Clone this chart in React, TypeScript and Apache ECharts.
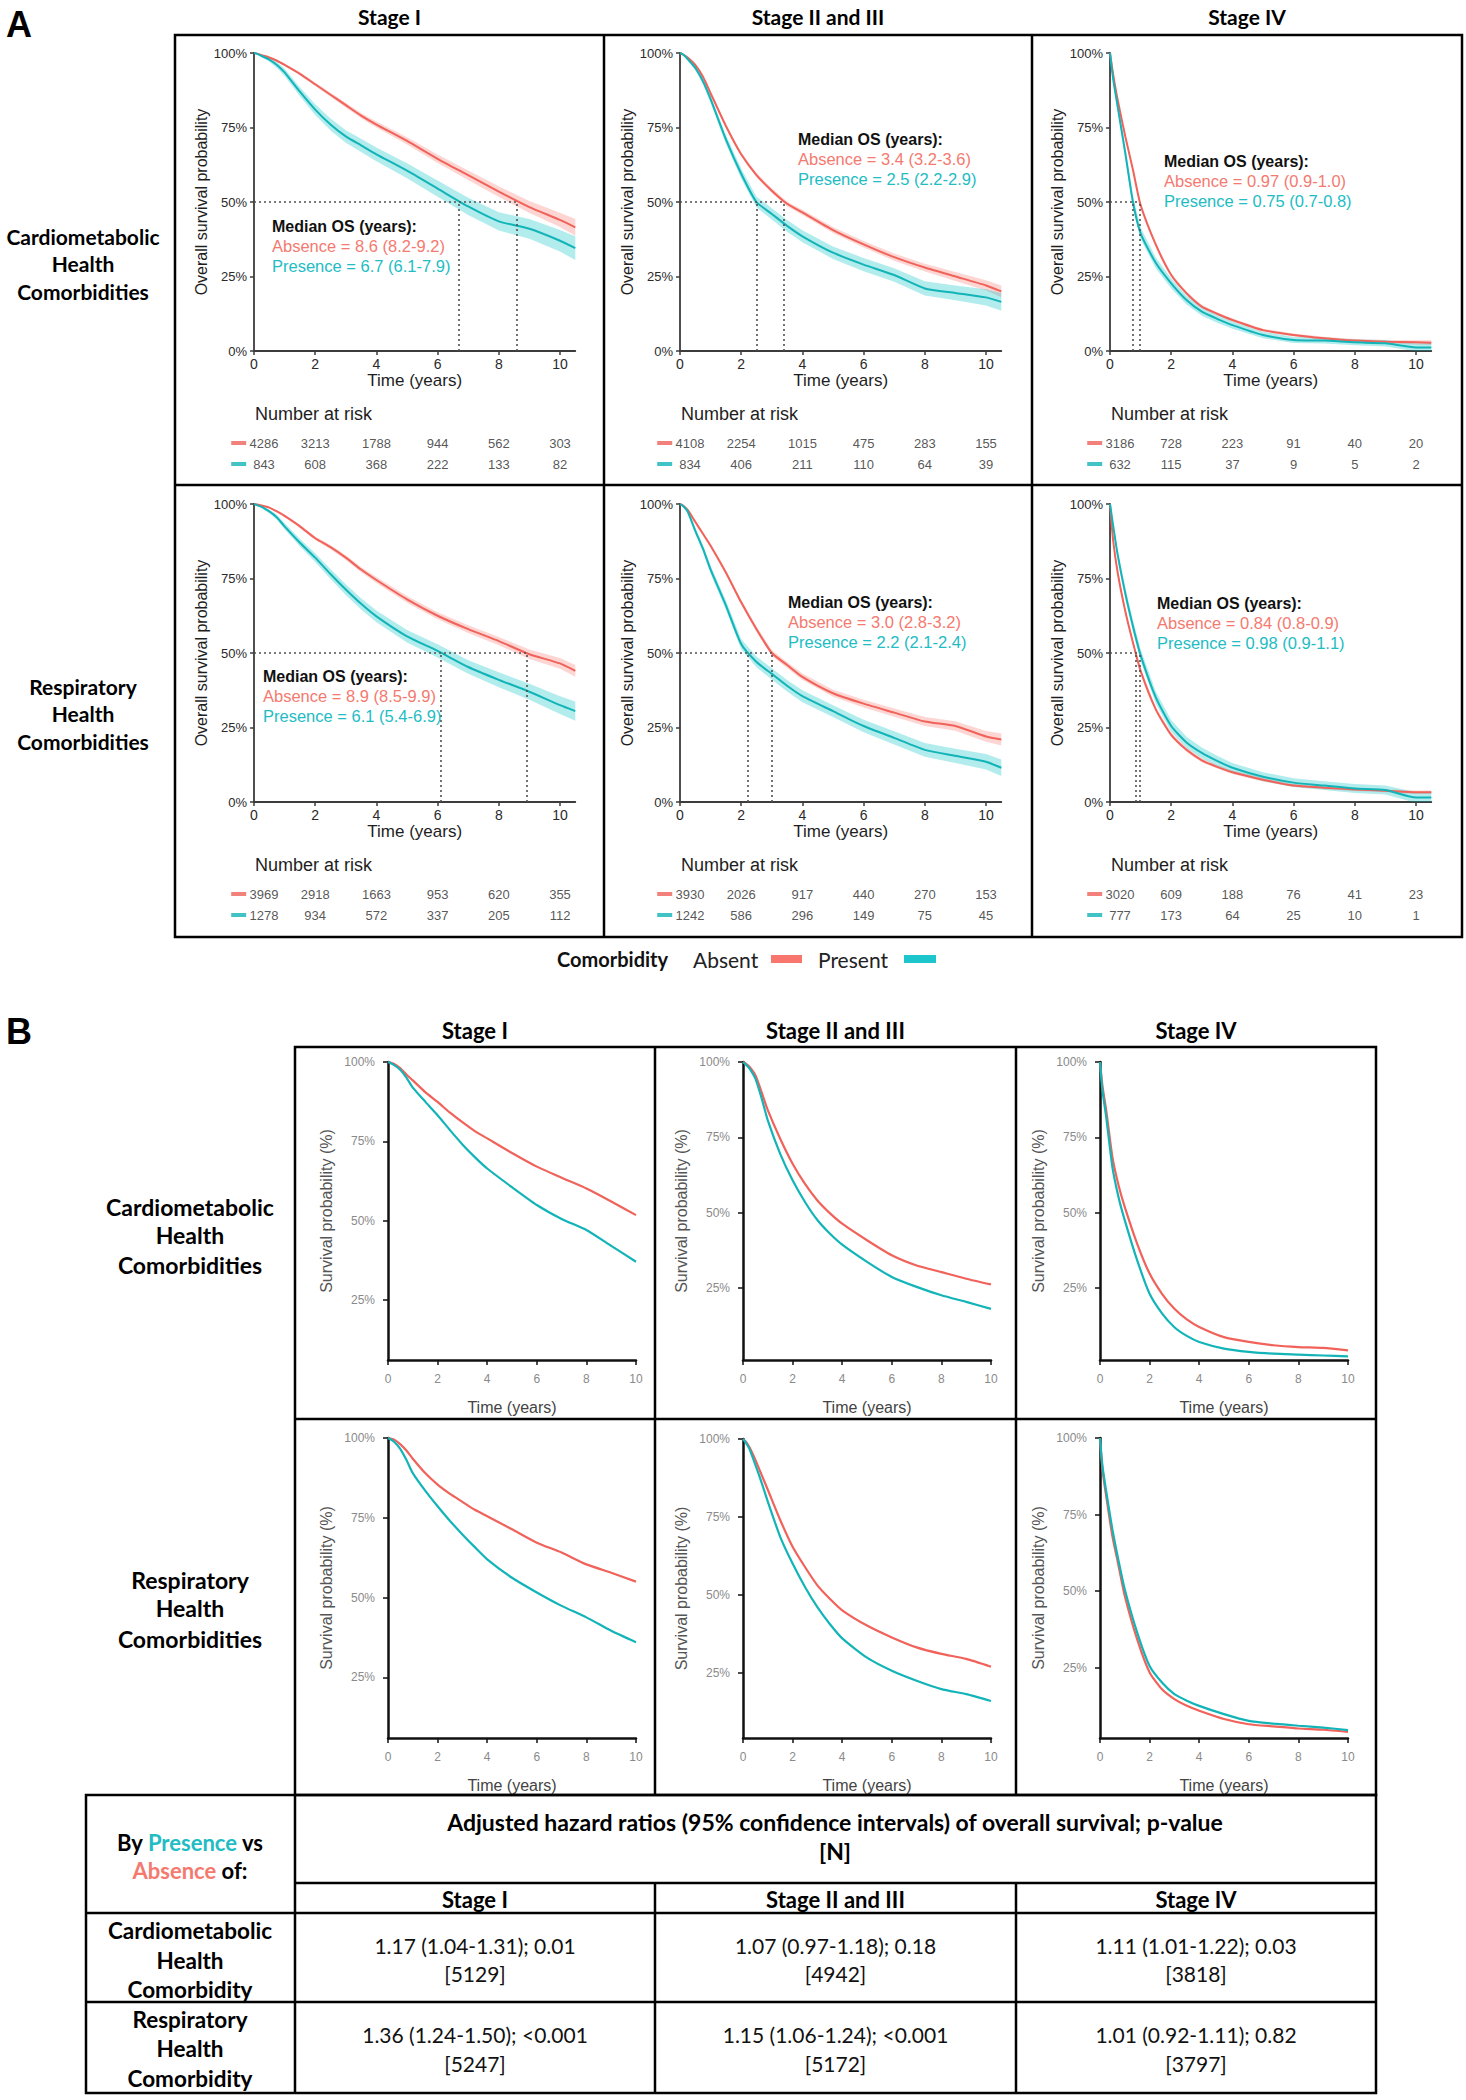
import React, { useEffect, useRef } from 'react';
import * as echarts from 'echarts';

// ---------------- DATA ----------------
const STAGES = ['Stage I', 'Stage II and III', 'Stage IV'];
const ROW_LABELS = [['Cardiometabolic', 'Health', 'Comorbidities'], ['Respiratory', 'Health', 'Comorbidities']];
const TABLE_ROW_LABELS = [['Cardiometabolic', 'Health', 'Comorbidity'], ['Respiratory', 'Health', 'Comorbidity']];

const TIME_A = [0, 0.1, 0.25, 0.5, 0.75, 1, 1.5, 2, 2.5, 3, 3.5, 4, 5, 6, 7, 8, 9, 10, 10.5];
const TIME_B = [0, 0.1, 0.25, 0.5, 0.75, 1, 1.5, 2, 2.5, 3, 3.5, 4, 5, 6, 7, 8, 9, 10];
const X_TICKS = [0, 2, 4, 6, 8, 10];
const Y_TICKS_B = [25, 50, 75, 100];
const RISK_TIMES = [0, 2, 4, 6, 8, 10];

// Panel A: Kaplan-Meier overall survival (%) and 95% CI half-width (%)
const cardioS1Absent = [100, 99.8, 99.3, 98.5, 97.4, 96, 93, 89.5, 86, 82.5, 79, 76, 70.5, 64.5, 59, 53.5, 48.3, 44, 41.5];
const cardioS1AbsentCI = [0, 0, 0.1, 0.2, 0.3, 0.4, 0.5, 0.6, 0.7, 0.8, 0.9, 1, 1.2, 1.4, 1.6, 1.8, 2, 2.4, 2.8];
const cardioS1Present = [100, 99.7, 99, 97.8, 96, 93.5, 87, 81, 76, 72, 69, 66, 60.5, 54.5, 48.5, 43.5, 41, 37, 34.5];
const cardioS1PresentCI = [0, 0.2, 0.4, 0.7, 1, 1.2, 1.5, 1.8, 2, 2.1, 2.2, 2.3, 2.5, 2.7, 2.9, 3.1, 3.3, 3.6, 4];

const cardioS23Absent = [100, 99.5, 98.5, 96, 92, 86.5, 75.5, 66, 59, 53.8, 49.4, 46.5, 40.6, 35.8, 31.5, 28, 25, 22, 20];
const cardioS23AbsentCI = [0, 0, 0.1, 0.2, 0.3, 0.4, 0.5, 0.6, 0.7, 0.8, 0.8, 0.9, 1, 1.1, 1.2, 1.3, 1.5, 1.7, 2];
const cardioS23Present = [100, 99.5, 98, 95, 90.5, 84.5, 71, 59.5, 50, 46, 42, 38.5, 33, 29, 25.5, 21, 19.5, 18, 16.5];
const cardioS23PresentCI = [0, 0.3, 0.5, 0.8, 1, 1.2, 1.5, 1.7, 1.8, 1.9, 2, 2, 2.1, 2.2, 2.3, 2.4, 2.5, 2.7, 3];

const cardioS4Absent = [100, 93, 84.3, 72, 60.8, 49, 35.6, 25.5, 19.4, 14.9, 12.5, 10.4, 7, 5.4, 4.3, 3.5, 3.1, 2.9, 2.8];
const cardioS4AbsentCI = [0, 0.3, 0.4, 0.5, 0.6, 0.6, 0.6, 0.6, 0.5, 0.5, 0.5, 0.5, 0.5, 0.5, 0.5, 0.5, 0.6, 0.7, 0.8];
const cardioS4Present = [100, 91.5, 82, 66.4, 50, 39.5, 29.5, 22.7, 17.1, 13.2, 10.8, 8.7, 5.4, 3.7, 3.5, 2.9, 2.6, 1.2, 1.2];
const cardioS4PresentCI = [0, 1, 1.5, 2, 2, 2, 1.8, 1.7, 1.5, 1.4, 1.3, 1.2, 1.1, 1, 1, 1, 1.1, 1.3, 1.5];

const respS1Absent = [100, 99.8, 99.5, 98.8, 97.5, 96, 92.5, 88.5, 85.5, 82, 78, 74.5, 68, 62.5, 58, 54, 49.6, 46.5, 44];
const respS1AbsentCI = [0, 0, 0.1, 0.2, 0.3, 0.4, 0.5, 0.6, 0.7, 0.8, 0.9, 1, 1.1, 1.2, 1.3, 1.4, 1.6, 1.8, 2];
const respS1Present = [100, 99.6, 99, 97.5, 95.5, 92.5, 87, 82, 76.5, 71.3, 66.5, 62.3, 55.6, 50.7, 45.3, 41, 37, 32.5, 30.5];
const respS1PresentCI = [0, 0.2, 0.4, 0.6, 0.8, 1, 1.3, 1.5, 1.7, 1.8, 1.9, 2, 2.1, 2.2, 2.3, 2.5, 2.7, 3, 3.2];

const respS23Absent = [100, 99.5, 98, 94, 90, 86, 77, 67, 58, 50, 46, 42, 36.5, 33, 30, 27, 25.5, 22, 21];
const respS23AbsentCI = [0, 0.1, 0.2, 0.4, 0.5, 0.6, 0.7, 0.8, 0.9, 1, 1, 1.1, 1.2, 1.3, 1.4, 1.5, 1.6, 1.8, 2];
const respS23Present = [100, 99.3, 97.5, 91, 85, 78, 66, 53, 47, 43, 39, 35.5, 30.5, 25.5, 21.5, 17.5, 15.5, 13.5, 11.5];
const respS23PresentCI = [0, 0.3, 0.6, 1, 1.2, 1.4, 1.6, 1.7, 1.8, 1.9, 1.9, 2, 2, 2.1, 2.2, 2.3, 2.4, 2.6, 2.8];

const respS4Absent = [100, 88, 77, 64, 53.5, 44, 31, 22.5, 17.5, 14, 11.8, 10, 7.5, 5.5, 4.8, 4.2, 3.8, 3.3, 3.3];
const respS4AbsentCI = [0, 0.5, 0.7, 0.8, 0.8, 0.8, 0.8, 0.8, 0.7, 0.7, 0.6, 0.6, 0.6, 0.5, 0.5, 0.5, 0.5, 0.6, 0.6];
const respS4Present = [100, 93, 83, 70, 59, 49.3, 35, 25.5, 20, 16.5, 13.8, 11.5, 8.5, 6.5, 5.5, 4.5, 4, 1.5, 1.5];
const respS4PresentCI = [0, 1, 1.5, 2, 2, 2, 2, 2, 1.9, 1.8, 1.7, 1.6, 1.5, 1.5, 1.5, 1.5, 1.5, 1.8, 2];

// Median OS (years)
const medianAbsent = [[8.6, 3.4, 0.97], [8.9, 3.0, 0.84]];
const medianPresent = [[6.7, 2.5, 0.75], [6.1, 2.2, 0.98]];
const medianAbsentText = [['Absence = 8.6 (8.2-9.2)', 'Absence = 3.4 (3.2-3.6)', 'Absence = 0.97 (0.9-1.0)'], ['Absence = 8.9 (8.5-9.9)', 'Absence = 3.0 (2.8-3.2)', 'Absence = 0.84 (0.8-0.9)']];
const medianPresentText = [['Presence = 6.7 (6.1-7.9)', 'Presence = 2.5 (2.2-2.9)', 'Presence = 0.75 (0.7-0.8)'], ['Presence = 6.1 (5.4-6.9)', 'Presence = 2.2 (2.1-2.4)', 'Presence = 0.98 (0.9-1.1)']];

// Number at risk
const riskCardioS1Absent = [4286, 3213, 1788, 944, 562, 303];
const riskCardioS1Present = [843, 608, 368, 222, 133, 82];
const riskCardioS23Absent = [4108, 2254, 1015, 475, 283, 155];
const riskCardioS23Present = [834, 406, 211, 110, 64, 39];
const riskCardioS4Absent = [3186, 728, 223, 91, 40, 20];
const riskCardioS4Present = [632, 115, 37, 9, 5, 2];
const riskRespS1Absent = [3969, 2918, 1663, 953, 620, 355];
const riskRespS1Present = [1278, 934, 572, 337, 205, 112];
const riskRespS23Absent = [3930, 2026, 917, 440, 270, 153];
const riskRespS23Present = [1242, 586, 296, 149, 75, 45];
const riskRespS4Absent = [3020, 609, 188, 76, 41, 23];
const riskRespS4Present = [777, 173, 64, 25, 10, 1];

// Panel B: adjusted survival (%)
const adjCardioS1Absent = [100, 99.8, 99.4, 98, 96, 94.2, 90.5, 87.4, 84, 81, 78.2, 75.9, 71.3, 67, 63.5, 60.1, 56, 51.7];
const adjCardioS1Present = [100, 99.7, 99, 97.5, 95, 91.9, 87.5, 83.2, 78.5, 74, 70, 66.4, 60.5, 54.9, 50.5, 47, 42, 37];
const adjCardioS23Absent = [100, 99.5, 98.5, 95.6, 90, 84, 74.5, 66.2, 59.5, 54, 49.8, 46.3, 40.8, 35.8, 32.4, 30.2, 28, 26.1];
const adjCardioS23Present = [100, 99.3, 98, 94.5, 88, 80.6, 69.5, 60.7, 53.5, 47.5, 43, 39.3, 33.6, 28.6, 25.3, 22.5, 20.3, 18];
const adjCardioS4Absent = [100, 92, 84, 68.4, 59, 51.8, 39.6, 29.7, 23, 18, 14.5, 12, 8.6, 7, 5.9, 5.3, 5, 4.2];
const adjCardioS4Present = [100, 90.5, 81.7, 65.1, 55, 47.4, 34.1, 23, 16.5, 11.9, 9, 7, 4.8, 3.7, 3.1, 2.8, 2.5, 2.2];
const adjRespS1Absent = [100, 99.8, 99.5, 98, 96, 93.5, 89, 85.4, 82.5, 80, 77.5, 75.5, 71.4, 67.2, 64.1, 60.4, 57.8, 55];
const adjRespS1Present = [100, 99.6, 98.8, 96.5, 93, 89, 83.5, 78.6, 74, 69.8, 65.8, 62, 56.2, 51.6, 47.4, 43.8, 39.6, 36];
const adjRespS23Absent = [100, 99.3, 97.5, 93.3, 88.5, 83.7, 74, 65.4, 58.9, 53, 48.7, 45, 40.1, 36.3, 33.1, 31, 29.4, 26.9];
const adjRespS23Present = [100, 99, 97, 91.7, 86, 79.9, 68.6, 60, 52.5, 46, 40.6, 36, 29.8, 25.6, 22.4, 19.7, 18.1, 15.9];
const adjRespS4Absent = [100, 89.7, 81, 67.9, 58.2, 48.4, 34.2, 23.4, 17.9, 14.7, 12.5, 10.9, 8.2, 6.5, 5.8, 5.1, 4.7, 4];
const adjRespS4Present = [100, 90.8, 82.6, 70.1, 59.8, 50.5, 36.4, 25.5, 20.1, 16.3, 14.2, 12.5, 9.8, 7.6, 6.7, 6, 5.4, 4.6];
const adjYMin = [[6, 1, 1], [6, 4, 2]];

// Table: adjusted hazard ratios
const hrText = [['1.17 (1.04-1.31); 0.01', '1.07 (0.97-1.18); 0.18', '1.11 (1.01-1.22); 0.03'], ['1.36 (1.24-1.50); <0.001', '1.15 (1.06-1.24); <0.001', '1.01 (0.92-1.11); 0.82']];
const hrN = [[5129, 4942, 3818], [5247, 5172, 3797]];

const A_CELLS = [
  [
    { abs: cardioS1Absent, absCI: cardioS1AbsentCI, pres: cardioS1Present, presCI: cardioS1PresentCI, rA: riskCardioS1Absent, rP: riskCardioS1Present },
    { abs: cardioS23Absent, absCI: cardioS23AbsentCI, pres: cardioS23Present, presCI: cardioS23PresentCI, rA: riskCardioS23Absent, rP: riskCardioS23Present },
    { abs: cardioS4Absent, absCI: cardioS4AbsentCI, pres: cardioS4Present, presCI: cardioS4PresentCI, rA: riskCardioS4Absent, rP: riskCardioS4Present },
  ],
  [
    { abs: respS1Absent, absCI: respS1AbsentCI, pres: respS1Present, presCI: respS1PresentCI, rA: riskRespS1Absent, rP: riskRespS1Present },
    { abs: respS23Absent, absCI: respS23AbsentCI, pres: respS23Present, presCI: respS23PresentCI, rA: riskRespS23Absent, rP: riskRespS23Present },
    { abs: respS4Absent, absCI: respS4AbsentCI, pres: respS4Present, presCI: respS4PresentCI, rA: riskRespS4Absent, rP: riskRespS4Present },
  ],
];
const B_CELLS = [
  [
    { abs: adjCardioS1Absent, pres: adjCardioS1Present },
    { abs: adjCardioS23Absent, pres: adjCardioS23Present },
    { abs: adjCardioS4Absent, pres: adjCardioS4Present },
  ],
  [
    { abs: adjRespS1Absent, pres: adjRespS1Present },
    { abs: adjRespS23Absent, pres: adjRespS23Present },
    { abs: adjRespS4Absent, pres: adjRespS4Present },
  ],
];

// ---------------- STYLE / LAYOUT ----------------
const RED = '#F0625A';
const TEAL = '#12B4B8';
const RED_TXT = '#F47A70';
const TEAL_TXT = '#22BCC4';
const SANS = '"Liberation Sans", Arial, sans-serif';
const LATO = 'Lato, "Open Sans", sans-serif';

const A_AXIS_X = [254, 680, 1110];
const A_PPY = 30.6;
const A_TOP = [53, 504];
const A_H = 298;
const A_RISK_TOP = [443, 894];
const A_RISK_LABEL_Y = [414, 865];
const A_MED_POS = [[[272, 226], [798, 139], [1164, 161]], [[263, 676], [788, 602], [1157, 603]]];

const B_AXIS_X = [388, 743, 1100];
const B_W = 248;
const B_TOP = [[1062, 1062, 1062], [1438, 1439, 1438]];
const B_BOTTOM = [1360, 1738];

function buildOption() {
  const grid: any[] = [];
  const xAxis: any[] = [];
  const yAxis: any[] = [];
  const series: any[] = [];
  const els: any[] = [];

  const addGrid = (g: any, xa: any, ya: any) => {
    const i = grid.length;
    grid.push(g);
    xAxis.push({ ...xa, gridIndex: i });
    yAxis.push({ ...ya, gridIndex: i });
    return i;
  };
  const txt = (x: number, y: number, text: string, font: string, fill = '#000', align = 'center') => ({
    type: 'text', x, y, silent: true, z: 10,
    style: { text, font, fill, textAlign: align, textVerticalAlign: 'middle' },
  });
  const ln = (x1: number, y1: number, x2: number, y2: number, w = 2.5) => ({
    type: 'line', silent: true, z: 10, shape: { x1, y1, x2, y2 }, style: { stroke: '#000', lineWidth: w },
  });
  const box = (x: number, y: number, w: number, h: number, lw = 2.5) => ({
    type: 'rect', silent: true, z: 10, shape: { x, y, width: w, height: h }, style: { fill: 'none', stroke: '#000', lineWidth: lw },
  });
  const curve = (gi: number, times: number[], vals: number[], color: string, width: number, extra: any = {}) => ({
    type: 'line', xAxisIndex: gi, yAxisIndex: gi, data: times.map((t, i) => [t, vals[i]]),
    symbol: 'none', smooth: 0.2, lineStyle: { color, width }, itemStyle: { color }, silent: true, z: 4, ...extra,
  });
  // confidence band: polygon through (t, lower) and back through (t, upper), placed with api.coord
  const band = (gi: number, times: number[], vals: number[], ci: number[], color: string) => ({
    type: 'custom', xAxisIndex: gi, yAxisIndex: gi, silent: true, z: 2, clip: true,
    data: times.map((t, i) => [t, vals[i] - ci[i], vals[i] + ci[i]]),
    encode: { x: 0, y: [1, 2] },
    renderItem: (params: any, api: any) => {
      if (params.dataIndex !== 0) return null;
      const lower = times.map((t, i) => api.coord([t, vals[i] - ci[i]]));
      const upper = times.map((t, i) => api.coord([t, vals[i] + ci[i]])).reverse();
      return {
        type: 'polygon',
        shape: { points: lower.concat(upper) },
        style: { fill: color, opacity: 0.3 },
      };
    },
  });

  // ---------- Panel A ----------
  for (let r = 0; r < 2; r++) {
    for (let c = 0; c < 3; c++) {
      const cell = A_CELLS[r][c];
      const left = A_AXIS_X[c];
      const axisCol = '#3c3c3c';
      const gi = addGrid(
        { left, top: A_TOP[r], width: 10.5 * A_PPY, height: A_H },
        {
          type: 'value', min: 0, max: 10.5,
          axisLine: { show: true, onZero: false, lineStyle: { color: axisCol, width: 1.8 } },
          axisTick: { show: true, length: 4, customValues: X_TICKS, lineStyle: { color: axisCol, width: 1.5 } },
          axisLabel: { customValues: X_TICKS, color: '#2a2a2a', fontSize: 14, margin: 6, fontFamily: SANS },
          splitLine: { show: false },
          name: 'Time (years)', nameLocation: 'middle', nameGap: 21,
          nameTextStyle: { fontSize: 17, color: '#1e1e1e', fontFamily: SANS },
        },
        {
          type: 'value', min: 0, max: 100, interval: 25,
          axisLine: { show: true, lineStyle: { color: axisCol, width: 1.8 } },
          axisTick: { show: true, length: 4, lineStyle: { color: axisCol, width: 1.5 } },
          axisLabel: { formatter: '{value}%', color: '#2a2a2a', fontSize: 13, margin: 7, fontFamily: SANS },
          splitLine: { show: false },
          name: 'Overall survival probability', nameLocation: 'middle', nameGap: 44,
          nameTextStyle: { fontSize: 16, color: '#1e1e1e', fontFamily: SANS },
        },
      );
      series.push(band(gi, TIME_A, cell.abs, cell.absCI, '#F8766D'));
      series.push(band(gi, TIME_A, cell.pres, cell.presCI, '#00BFC4'));
      series.push(curve(gi, TIME_A, cell.abs, RED, 2));
      const mA = medianAbsent[r][c];
      const mP = medianPresent[r][c];
      series.push(curve(gi, TIME_A, cell.pres, TEAL, 2, {
        markLine: {
          silent: true, symbol: ['none', 'none'], label: { show: false },
          lineStyle: { color: '#505050', type: [2, 3], width: 1.6 },
          data: [
            [{ coord: [0, 50] }, { coord: [Math.max(mA, mP), 50] }],
            [{ coord: [mA, 0] }, { coord: [mA, 50] }],
            [{ coord: [mP, 0] }, { coord: [mP, 50] }],
          ],
        },
      }));

      // median text
      const [mx, my] = A_MED_POS[r][c];
      els.push(txt(mx, my, 'Median OS (years):', `bold 16px ${SANS}`, '#111', 'left'));
      els.push(txt(mx, my + 20, medianAbsentText[r][c], `16.5px ${SANS}`, RED_TXT, 'left'));
      els.push(txt(mx, my + 40, medianPresentText[r][c], `16.5px ${SANS}`, TEAL_TXT, 'left'));

      // number at risk
      els.push(txt(left + 1, A_RISK_LABEL_Y[r], 'Number at risk', `18px ${SANS}`, '#1e1e1e', 'left'));
      const rg = addGrid(
        { left: left - A_PPY, top: A_RISK_TOP[r], width: 11.5 * A_PPY, height: 21 },
        { type: 'value', min: -1, max: 10.5, show: false },
        { type: 'value', min: 0, max: 1, show: false },
      );
      const riskData: any[] = [];
      RISK_TIMES.forEach((t, i) => {
        const off = i === 0 ? [10, 0] : [0, 0];
        riskData.push({ value: [t, 1, cell.rA[i]], label: { offset: off } });
        riskData.push({ value: [t, 0, cell.rP[i]], label: { offset: off } });
      });
      series.push({
        type: 'scatter', xAxisIndex: rg, yAxisIndex: rg, symbolSize: 1, clip: false, silent: true,
        itemStyle: { color: 'rgba(0,0,0,0)' },
        label: { show: true, position: 'inside', color: '#2a2a2a', fontSize: 13, fontFamily: SANS, formatter: (p: any) => String(p.value[2]) },
        data: riskData,
      });
      series.push({
        type: 'scatter', xAxisIndex: rg, yAxisIndex: rg, symbol: 'rect', symbolSize: [15, 4], clip: false, silent: true,
        data: [{ value: [-0.5, 1], itemStyle: { color: RED } }, { value: [-0.5, 0], itemStyle: { color: TEAL } }],
      });
    }
  }

  // ---------- Panel B ----------
  for (let r = 0; r < 2; r++) {
    for (let c = 0; c < 3; c++) {
      const cell = B_CELLS[r][c];
      const top = B_TOP[r][c];
      const gi = addGrid(
        { left: B_AXIS_X[c], top, width: B_W, height: B_BOTTOM[r] - top },
        {
          type: 'value', min: 0, max: 10, interval: 2,
          axisLine: { show: true, onZero: false, lineStyle: { color: '#111', width: 2.5 } },
          axisTick: { show: true, length: 5, lineStyle: { color: '#111', width: 1.5 } },
          axisLabel: { color: '#8a8a8a', fontSize: 12, margin: 13, fontFamily: SANS },
          splitLine: { show: false },
          name: 'Time (years)', nameLocation: 'middle', nameGap: 39,
          nameTextStyle: { fontSize: 16, color: '#444', fontFamily: SANS },
        },
        {
          type: 'value', min: adjYMin[r][c], max: 100,
          axisLine: { show: true, lineStyle: { color: '#111', width: 2.5 } },
          axisTick: { show: true, length: 5, customValues: Y_TICKS_B, lineStyle: { color: '#111', width: 1.5 } },
          axisLabel: { customValues: Y_TICKS_B, formatter: '{value}%', color: '#8a8a8a', fontSize: 12, margin: 13, fontFamily: SANS },
          splitLine: { show: false },
          name: 'Survival probability (%)', nameLocation: 'middle', nameGap: 54,
          nameTextStyle: { fontSize: 16, color: '#555', fontFamily: SANS },
        },
      );
      series.push(curve(gi, TIME_B, cell.abs, RED, 2.2));
      series.push(curve(gi, TIME_B, cell.pres, TEAL, 2.2));
    }
  }

  // ---------- Graphics: titles, frames, labels ----------
  els.push(txt(6, 24, 'A', `bold 36px ${SANS}`, '#000', 'left'));
  els.push(txt(6, 1031, 'B', `bold 36px ${SANS}`, '#000', 'left'));

  const aColC = [389.5, 818, 1247];
  STAGES.forEach((s, i) => els.push(txt(aColC[i], 16, s, `bold 21px ${LATO}`)));
  const bColC = [475, 835.5, 1196];
  STAGES.forEach((s, i) => els.push(txt(bColC[i], 1030, s, `bold 22px ${LATO}`)));

  const aRowY = [[236, 263, 291], [686, 713, 741]];
  ROW_LABELS.forEach((lines, r) => lines.forEach((l, k) => els.push(txt(83, aRowY[r][k], l, `bold 21px ${LATO}`))));
  const bRowY = [[1207, 1235, 1265], [1580, 1608, 1639]];
  ROW_LABELS.forEach((lines, r) => lines.forEach((l, k) => els.push(txt(190, bRowY[r][k], l, `bold 23px ${LATO}`))));

  // Panel A frame
  els.push(box(175, 35, 1287, 902));
  els.push(ln(604, 35, 604, 937));
  els.push(ln(1032, 35, 1032, 937));
  els.push(ln(175, 485, 1462, 485));

  // Legend
  els.push(txt(557, 959, 'Comorbidity', `bold 20px ${LATO}`, '#111', 'left'));
  els.push(txt(693, 959, 'Absent', `21px ${LATO}`, '#222', 'left'));
  els.push({ type: 'rect', silent: true, z: 10, shape: { x: 771, y: 955, width: 31, height: 8 }, style: { fill: '#F8766D' } });
  els.push(txt(818, 959, 'Present', `21px ${LATO}`, '#222', 'left'));
  els.push({ type: 'rect', silent: true, z: 10, shape: { x: 904, y: 955, width: 32, height: 8 }, style: { fill: '#1CC6CC' } });

  // Panel B frame
  els.push(box(295, 1047, 1081, 748));
  els.push(ln(655, 1047, 655, 1795));
  els.push(ln(1016, 1047, 1016, 1795));
  els.push(ln(295, 1419, 1376, 1419));

  // Table
  els.push(box(86, 1795, 1290, 298));
  els.push(ln(295, 1795, 295, 2093));
  els.push(ln(655, 1883, 655, 2093));
  els.push(ln(1016, 1883, 1016, 2093));
  els.push(ln(295, 1883, 1376, 1883));
  els.push(ln(86, 1913, 1376, 1913));
  els.push(ln(86, 2002, 1376, 2002));

  const boldT = { fontSize: 22, fontWeight: 'bold', fontFamily: LATO };
  els.push({
    type: 'text', x: 190, y: 1842, silent: true, z: 10,
    style: {
      text: '{k|By }{p|Presence}{k| vs}', textAlign: 'center', textVerticalAlign: 'middle',
      rich: { k: { ...boldT, fill: '#000', color: '#000' }, p: { ...boldT, fill: TEAL_TXT, color: TEAL_TXT } },
    },
  });
  els.push({
    type: 'text', x: 190, y: 1870, silent: true, z: 10,
    style: {
      text: '{a|Absence}{k| of:}', textAlign: 'center', textVerticalAlign: 'middle',
      rich: { k: { ...boldT, fill: '#000', color: '#000' }, a: { ...boldT, fill: RED_TXT, color: RED_TXT } },
    },
  });
  els.push(txt(835, 1822, 'Adjusted hazard ratios (95% confidence intervals) of overall survival; p-value', `bold 23px ${LATO}`));
  els.push(txt(835, 1851, '[N]', `bold 23px ${LATO}`));
  const tColC = [475, 835.5, 1196];
  STAGES.forEach((s, i) => els.push(txt(tColC[i], 1899, s, `bold 22px ${LATO}`)));
  const tRowLabelY = [[1930, 1960, 1989], [2019, 2048, 2078]];
  const tValY = [[1945, 1973], [2034, 2063]];
  TABLE_ROW_LABELS.forEach((lines, r) => {
    lines.forEach((l, k) => els.push(txt(190, tRowLabelY[r][k], l, `bold 22.5px ${LATO}`)));
    for (let c = 0; c < 3; c++) {
      els.push(txt(tColC[c], tValY[r][0], hrText[r][c], `21px ${LATO}`, '#111'));
      els.push(txt(tColC[c], tValY[r][1], `[${hrN[r][c]}]`, `21px ${LATO}`, '#111'));
    }
  });

  return {
    animation: false,
    backgroundColor: '#ffffff',
    grid, xAxis, yAxis, series,
    graphic: { elements: els },
  };
}

export default function App() {
  const ref = useRef<HTMLDivElement | null>(null);
  useEffect(() => {
    document.body.style.margin = '0';
    const chart = echarts.init(ref.current as HTMLDivElement, null, { renderer: 'svg' });
    chart.setOption(buildOption() as any);
    return () => chart.dispose();
  }, []);
  return <div ref={ref} style={{ width: 1466, height: 2100, background: '#fff' }} />;
}
